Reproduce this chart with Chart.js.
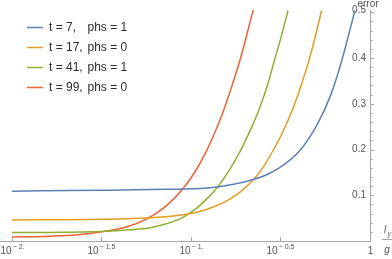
<!DOCTYPE html>
<html>
<head>
<meta charset="utf-8">
<script src="https://cdn.jsdelivr.net/npm/chart.js@4.4.0/dist/chart.umd.min.js"></script>
<style>
  html, body { margin: 0; padding: 0; background: #fff; }
</style>
</head>
<body>
<canvas id="errplot" width="392" height="259"></canvas>
<script>
// series: t value and phs value per curve
var tValues = [7, 17, 41, 99];
var phsValues = [1, 0, 1, 0];
var lineColors = ["#5E81B5", "#E19C24", "#8FB032", "#EB6235"];

// l_y / g  vs  error
var blueX = [0.01, 0.03112, 0.05937, 0.1130, 0.1402, 0.1730, 0.2154, 0.2683, 0.3311, 0.4105, 0.5093, 0.6046, 0.6880, 0.8240];
var blueY = [0.109, 0.111, 0.1125, 0.115, 0.118, 0.124, 0.133, 0.146, 0.167, 0.200, 0.256, 0.320, 0.388, 0.504];

var orangeX = [0.01, 0.03112, 0.05937, 0.09315, 0.1130, 0.1342, 0.1602, 0.1893, 0.2269, 0.2548, 0.2887, 0.3172, 0.3689, 0.4105, 0.4569, 0.4983, 0.5363];
var orangeY = [0.046, 0.0475, 0.051, 0.058, 0.065, 0.075, 0.089, 0.108, 0.137, 0.163, 0.199, 0.229, 0.287, 0.338, 0.396, 0.452, 0.504];

var greenX = [0.01, 0.01633, 0.03112, 0.04583, 0.05937, 0.07195, 0.08736, 0.09936, 0.1130, 0.1402, 0.1622, 0.1893, 0.2154, 0.2398, 0.2649, 0.2910, 0.3172, 0.3484];
var greenY = [0.0184, 0.0188, 0.0208, 0.0245, 0.029, 0.037, 0.049, 0.062, 0.079, 0.117, 0.152, 0.198, 0.244, 0.287, 0.335, 0.392, 0.443, 0.504];

var redX = [0.01, 0.01633, 0.02254, 0.03112, 0.04295, 0.05706, 0.07195, 0.0896, 0.1060, 0.1221, 0.1372, 0.1507, 0.1664, 0.1893, 0.2231];
var redY = [0.0088, 0.0105, 0.013, 0.0195, 0.030, 0.049, 0.075, 0.113, 0.153, 0.197, 0.241, 0.281, 0.330, 0.400, 0.507];

// x ticks: exponents of 10 and their superscript text
var xTickExps = [-2, -1.5, -1, -0.5, 0];
var xTickSups = ["\u2212 2.", "\u2212 1.5", "\u2212 1.", "\u2212 0.5", ""];
var yMinorStep = 0.02;

var seriesX = [blueX, orangeX, greenX, redX];
var seriesY = [blueY, orangeY, greenY, redY];

function pts(xs, ys) {
  return xs.map(function (x, i) { return { x: x, y: ys[i] }; });
}

var axisColor = "#a6a6a6";
var labelColor = "#555555";
var fontFam = "'Liberation Sans', Arial, sans-serif";

var decorate = {
  id: "decorate",
  afterDraw: function (chart) {
    var ctx = chart.ctx;
    var xs = chart.scales.x, ys = chart.scales.y;
    var area = chart.chartArea;
    ctx.save();
    ctx.strokeStyle = axisColor;
    ctx.lineWidth = 1;

    // x ticks + labels
    xTickExps.forEach(function (e, i) {
      var px = Math.round(xs.getPixelForValue(Math.pow(10, e))) + 0.5;
      ctx.beginPath();
      ctx.moveTo(px, area.bottom);
      ctx.lineTo(px, area.bottom - 4);
      ctx.stroke();

      var base = xTickSups[i] ? "10" : "1";
      var sup = xTickSups[i];
      ctx.fillStyle = labelColor;
      ctx.textAlign = "left";
      ctx.textBaseline = "alphabetic";
      ctx.font = "10px " + fontFam;
      var bw = ctx.measureText(base).width;
      ctx.font = "7px " + fontFam;
      var sw = sup ? ctx.measureText(sup).width + 1 : 0;
      var x0 = px - (bw + sw) / 2;
      ctx.font = "10px " + fontFam;
      ctx.fillText(base, x0, 254);
      if (sup) {
        ctx.font = "7px " + fontFam;
        ctx.fillText(sup, x0 + bw + 1, 249);
      }
    });

    // y ticks, major every 0.1
    for (var k = 1; k * yMinorStep <= ys.max + 1e-9; k++) {
      var py = Math.round(ys.getPixelForValue(k * yMinorStep)) + 0.5;
      var len = (k % 5 === 0) ? 4 : 2.5;
      ctx.beginPath();
      ctx.moveTo(area.right, py);
      ctx.lineTo(area.right + len, py);
      ctx.stroke();
    }

    // axis titles
    ctx.fillStyle = labelColor;
    ctx.textAlign = "center";
    ctx.font = "10px " + fontFam;
    ctx.fillText("error", area.right - 2, 7);

    ctx.font = "italic 10px " + fontFam;
    ctx.textAlign = "left";
    ctx.fillText("l", 384, 233);
    ctx.font = "italic 7px " + fontFam;
    ctx.fillText("y", 387.5, 236);
    ctx.beginPath();
    ctx.moveTo(382, 239.5);
    ctx.lineTo(392, 239.5);
    ctx.stroke();
    ctx.font = "italic 10px " + fontFam;
    ctx.textAlign = "center";
    ctx.fillText("g", 387, 253);

    // legend
    chart.data.datasets.forEach(function (ds, i) {
      var ly = Math.round(26.7 + 20 * i) + 0.5;
      ctx.strokeStyle = ds.borderColor;
      ctx.lineWidth = 1.5;
      ctx.beginPath();
      ctx.moveTo(27, ly);
      ctx.lineTo(43, ly);
      ctx.stroke();
      ctx.fillStyle = "#2b2b2b";
      ctx.font = "12px " + fontFam;
      ctx.textAlign = "left";
      ctx.textBaseline = "middle";
      ctx.fillText("t = " + tValues[i] + ",", 49, ly + 0.5);
      ctx.fillText("phs = " + phsValues[i], 87.5, ly + 0.5);
    });
    ctx.restore();
  }
};

new Chart("errplot", {
  type: "line",
  data: {
    datasets: tValues.map(function (t, i) {
      return {
        label: "t = " + t + ", phs = " + phsValues[i],
        data: pts(seriesX[i], seriesY[i]),
        borderColor: lineColors[i],
        borderWidth: 1.5,
        pointRadius: 0,
        fill: false,
        cubicInterpolationMode: "monotone"
      };
    })
  },
  options: {
    responsive: false,
    animation: false,
    layout: { padding: { top: 10, left: 0, right: 0, bottom: 0 } },
    plugins: {
      legend: { display: false },
      tooltip: { enabled: false }
    },
    scales: {
      x: {
        type: "logarithmic",
        min: 0.00857,
        max: 1.0,
        grid: { display: false },
        border: { display: true, color: axisColor, width: 1 },
        ticks: { display: false },
        afterFit: function (s) { s.height = 18; }
      },
      y: {
        position: "right",
        min: 0,
        max: 0.505,
        grid: { display: false, drawTicks: false },
        border: { display: true, color: axisColor, width: 1 },
        ticks: {
          mirror: true,
          padding: -4,
          stepSize: 0.1,
          color: labelColor,
          font: { family: fontFam, size: 10 },
          callback: function (v) { return v > 0.001 ? v.toFixed(1) : ""; }
        },
        afterFit: function (s) { s.width = 22; }
      }
    }
  },
  plugins: [decorate]
});
</script>
</body>
</html>
